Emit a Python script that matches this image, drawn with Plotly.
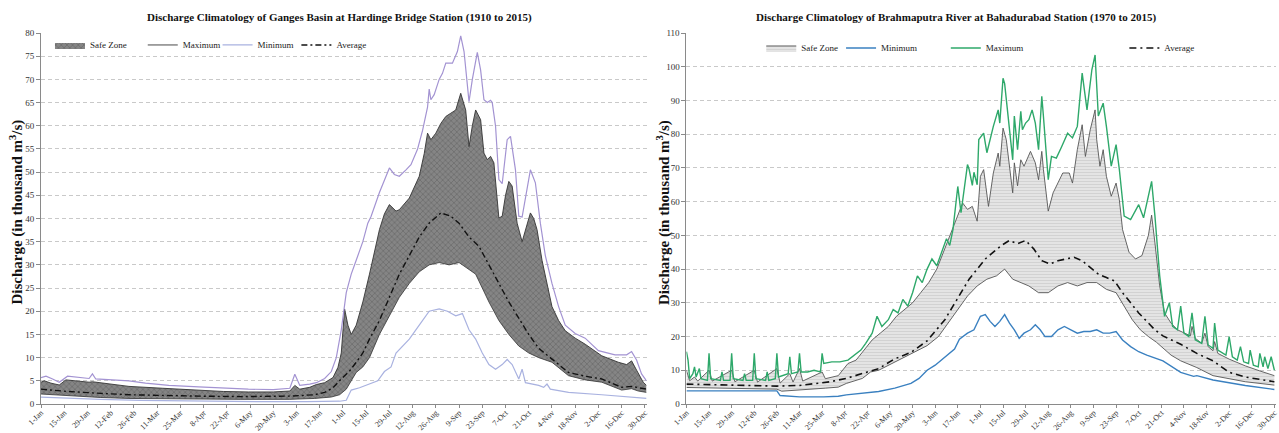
import plotly.graph_objects as go

# ---------------- categories / ticks ----------------
tick_days = [0, 14, 28, 42, 56, 70, 84, 98, 112, 126, 140, 154, 168, 182, 196, 210,
             224, 238, 252, 266, 280, 294, 308, 322, 336, 350, 364]
tick_labels = ["1-Jan", "15-Jan", "29-Jan", "12-Feb", "26-Feb", "11-Mar", "25-Mar", "8-Apr",
               "22-Apr", "6-May", "20-May", "3-Jun", "17-Jun", "1-Jul", "15-Jul", "29-Jul",
               "12-Aug", "26-Aug", "9-Sep", "23-Sep", "7-Oct", "21-Oct", "4-Nov", "18-Nov",
               "2-Dec", "16-Dec", "30-Dec"]

# ---------------- Ganges (left) ----------------
g_env_days = [0, 3, 7, 11, 16, 22, 29, 31, 33, 43, 53, 63, 77, 95, 110, 125, 140, 150, 153, 156,
              162, 166, 171, 175, 178, 181, 184, 187, 190, 194, 197, 199, 204, 210, 213, 216, 220,
              223, 227, 230, 233, 234, 235, 237, 240, 242, 244, 248, 251, 253, 255, 257, 258, 260,
              263, 265, 267, 269, 271, 272, 274, 276, 278, 281, 283, 286, 288, 290, 293, 295, 298,
              301, 304, 308, 312, 316, 322, 328, 336, 346, 353, 356, 359, 362, 365]
g_env = [5.7, 6.0, 5.4, 4.7, 6.0, 5.8, 5.5, 6.5, 5.4, 5.2, 5.0, 4.5, 4.0, 3.7, 3.4, 3.2, 3.1, 3.4,
         6.4, 4.0, 4.3, 4.6, 5.5, 7.0, 10.0, 16.0, 24.0, 28.0, 31.0, 35.0, 39.0, 40.5, 45.6, 50.9,
         49.5, 49.1, 50.5, 51.6, 55.0, 59.0, 64.0, 67.9, 65.6, 66.7, 70.0, 71.3, 73.5, 73.5, 76.0,
         79.4, 76.0, 68.0, 65.2, 70.0, 75.8, 72.0, 65.6, 65.0, 65.5, 65.0, 59.9, 48.4, 47.5, 57.0,
         57.7, 50.5, 40.5, 40.3, 46.0, 50.5, 47.7, 39.0, 32.0, 26.0, 21.0, 17.0, 15.2, 14.2, 11.5,
         10.6, 10.6, 11.3, 9.5, 6.5, 5.0]

g_up_days = [0, 2, 6, 11, 15, 22, 29, 31, 43, 53, 73, 95, 110, 125, 140, 150, 153, 156, 162, 166,
             171, 176, 179, 181, 183, 185, 187, 190, 194, 198, 201, 204, 207, 210, 214, 216, 222,
             228, 231, 233, 235, 238, 241, 244, 247, 250, 253, 256, 258, 260, 262, 265, 267, 269,
             271, 273, 276, 278, 280, 282, 284, 287, 290, 293, 295, 297, 299, 302, 305, 308, 312,
             316, 322, 328, 338, 348, 353, 356, 359, 363, 365]
g_up = [4.7, 5.0, 4.5, 4.1, 5.2, 4.9, 4.7, 4.8, 4.3, 3.8, 3.4, 2.9, 2.7, 2.6, 2.6, 2.8, 4.0, 3.2,
        3.6, 4.2, 4.6, 5.7, 7.9, 11.0, 20.5, 17.0, 15.0, 17.0, 22.0, 28.0, 33.0, 37.6, 41.0, 43.0,
        41.6, 41.9, 44.4, 49.1, 54.0, 58.4, 57.0, 58.4, 60.5, 62.0, 62.7, 63.4, 67.0, 63.4, 55.5,
        60.0, 63.4, 61.3, 54.1, 52.7, 53.4, 52.0, 40.1, 40.5, 45.0, 48.0, 47.0, 39.0, 35.0, 39.0,
        41.2, 40.0, 37.6, 31.0, 26.0, 21.0, 18.0, 15.8, 14.2, 12.9, 10.4, 9.0, 8.5, 9.3, 7.3, 4.7,
        4.0]

g_low_days = [0, 16, 36, 53, 95, 120, 150, 165, 175, 180, 184, 187, 190, 194, 198, 204, 210, 216,
              222, 228, 234, 240, 246, 252, 258, 262, 266, 270, 276, 282, 288, 294, 300, 308, 318,
              328, 338, 350, 356, 360, 365]
g_low = [2.15, 1.8, 1.4, 1.2, 1.0, 1.0, 1.0, 1.2, 1.5, 2.0, 3.2, 5.0, 6.8, 8.0, 10.0, 15.0, 19.0,
         23.0, 26.0, 28.5, 30.0, 30.5, 30.0, 30.5, 29.0, 28.0, 25.0, 22.0, 18.0, 15.0, 12.5, 11.0,
         10.0, 9.0, 6.1, 5.2, 4.7, 3.0, 3.3, 2.8, 2.5]

g_avg_days = [0, 16, 36, 53, 95, 120, 150, 165, 171, 176, 181, 186, 190, 194, 198, 204, 210, 216,
              222, 228, 234, 241, 247, 252, 258, 264, 270, 276, 282, 288, 294, 300, 308, 318, 328,
              338, 350, 356, 365]
g_avg = [3.2, 2.7, 2.3, 2.0, 1.7, 1.6, 1.7, 2.0, 2.5, 3.5, 5.4, 7.1, 9.0, 11.0, 14.0, 18.0, 23.0,
         28.0, 32.0, 36.0, 39.0, 41.2, 40.5, 39.0, 36.0, 34.0, 30.0, 26.0, 22.0, 18.5, 15.0, 12.0,
         9.7, 6.8, 6.0, 5.4, 3.6, 3.8, 3.2]

g_min_days = [0, 20, 36, 60, 95, 130, 160, 180, 184, 187, 192, 196, 203, 207, 211, 214, 218, 222,
              228, 234, 240, 245, 250, 254, 258, 262, 266, 270, 274, 278, 281, 284, 288, 290, 292,
              300, 303, 305, 307, 318, 338, 352, 365]
g_min = [1.5, 1.2, 1.0, 0.8, 0.6, 0.5, 0.5, 0.6, 0.8, 3.0, 3.5, 4.0, 5.0, 7.0, 8.0, 11.0, 12.5,
         14.0, 17.0, 20.0, 20.5, 20.0, 19.0, 19.5, 16.0, 14.0, 11.0, 8.5, 7.5, 8.5, 9.6, 8.5, 5.4,
         7.5, 4.6, 4.0, 3.6, 4.3, 3.2, 2.5, 2.0, 1.6, 1.2]

# ---------------- Brahmaputra (right) ----------------
b_max_days = [0, 1, 2, 4, 5, 6, 8, 9, 13, 14, 15, 21, 22, 23, 27, 28, 29, 35, 36, 37, 41, 42, 43,
              49, 50, 51, 55, 56, 57, 60, 63, 64, 65, 69, 70, 71, 75, 79, 83, 84, 85, 90, 95, 100,
              104, 108, 111, 115, 118, 121, 125, 128, 131, 134, 137, 140, 143, 146, 149, 152, 155,
              158, 161, 163, 165, 168, 170, 174, 175, 177, 178, 180, 181, 184, 186, 190, 193, 194,
              196, 197, 200, 202, 203, 205, 207, 208, 210, 212, 214, 216, 218, 220, 221, 224, 226,
              229, 232, 236, 239, 242, 245, 248, 251, 253, 255, 258, 260, 263, 266, 268, 271, 275,
              280, 283, 288, 290, 293, 296, 299, 301, 304, 306, 308, 311, 313, 315, 319, 321, 323,
              326, 327, 329, 334, 336, 338, 341, 343, 345, 348, 349, 351, 354, 355, 357, 358, 360,
              362, 364]
b_max = [15.5, 13, 7.5, 9, 11, 8, 10.5, 7.5, 7, 15, 7.5, 7, 9.5, 7, 7, 15, 7.5, 7, 9, 7, 7, 15,
         7.5, 7, 9.5, 7, 7.5, 15, 8, 8.5, 9, 14, 9, 9.5, 15, 9.5, 9.5, 10, 9.5, 15, 12, 12.5, 12.5,
         13, 14.5, 16, 18, 21, 26, 23, 25, 28, 27, 31, 29, 33, 38, 36, 40, 43, 41, 45, 49, 47, 51.7,
         64.5, 56.7, 71, 69.6, 64.8, 68.7, 65, 78.4, 80.3, 74.5, 82.3, 87.2, 83.3, 96.6, 95, 81.3,
         72.4, 85.4, 75.4, 86.8, 81.3, 83.3, 84.3, 87.2, 83.3, 75.4, 91.2, 85.4, 66.5, 73.4, 72.9,
         76, 80.3, 78.9, 82.3, 98.1, 87.2, 99.1, 103.5, 85.4, 89.2, 82.3, 70.5, 76.9, 69.6, 55.7,
         54.7, 59.1, 55.2, 66.0, 56.0, 38, 26, 30, 23, 22, 29, 21, 20, 27, 19, 18, 26, 17.5, 16.5,
         24, 16, 14.5, 20, 14, 13, 17, 12.5, 12, 16, 11.5, 11, 15, 11, 14, 10.5, 14, 10]

b_up_days = [0, 2, 5, 7, 14, 16, 28, 30, 42, 44, 56, 58, 64, 66, 70, 72, 84, 86, 94, 100, 105,
             110, 115, 120, 125, 130, 135, 140, 145, 150, 155, 160, 163, 167, 171, 174, 177, 180,
             182, 184, 187, 190, 193, 194, 196, 198, 200, 202, 203, 205, 207, 209, 213, 216, 218,
             220, 221, 224, 227, 233, 237, 239, 242, 245, 247, 250, 253, 254, 256, 258, 260, 263,
             266, 268, 270, 274, 278, 282, 286, 288, 290, 293, 296, 300, 304, 308, 312, 313, 315,
             319, 321, 323, 326, 327, 329, 336, 346, 355, 364]
b_up = [10, 6.9, 8, 6.8, 10, 6.8, 10, 6.6, 10, 6.5, 10.5, 6.2, 9, 6.5, 10.5, 6.8, 9.5, 7.5, 8.4,
        12, 13, 16, 19, 21, 23, 26, 28, 30, 33, 36, 40, 46, 50, 54.7, 59.6, 57.7, 58.6, 54.2, 67.5,
        69.5, 58.6, 68.5, 74.4, 70.5, 81.8, 78.4, 69.6, 62.6, 71.5, 64.7, 72.4, 70.5, 74.9, 71.5,
        66.5, 74.9, 69.6, 57.2, 62.6, 68.5, 68.5, 65.5, 75.4, 82.8, 73.4, 81.3, 87.2, 78.4, 70.5,
        75.4, 67.5, 61.6, 65.5, 60.6, 51.7, 45, 43, 44, 50, 56, 48, 35, 27, 24, 22, 21, 20.2, 23,
        19.5, 18, 21, 17, 15.8, 18.5, 15, 13.3, 11.3, 9.8, 8.4]

b_low_days = [0, 20, 40, 56, 59, 70, 86, 94, 99, 109, 114, 119, 129, 139, 149, 156, 162, 168, 174,
              180, 186, 192, 197, 202, 207, 212, 218, 224, 230, 236, 242, 248, 254, 260, 266, 271,
              276, 281, 286, 291, 300, 306, 316, 326, 336, 346, 364]
b_low = [4.9, 4.7, 4.6, 4.4, 3.8, 4.1, 4.7, 5.0, 6.1, 7.6, 9.5, 10, 12.4, 14.9, 17.3, 20, 24, 28,
         32, 35, 37, 38, 40, 37, 36, 35, 33, 33, 35, 36, 35, 36, 36, 34, 33, 29, 25, 22, 20, 18.3,
         14.5, 12.8, 10.8, 8.4, 7.4, 6.6, 5.6]

b_avg_days = [0, 20, 40, 56, 70, 85, 89, 99, 109, 119, 129, 139, 149, 155, 160, 165, 170, 175,
              180, 185, 190, 195, 200, 205, 210, 215, 220, 225, 230, 235, 240, 245, 250, 255, 260,
              265, 270, 275, 280, 285, 290, 295, 306, 316, 326, 336, 346, 364]
b_avg = [5.9, 5.7, 5.5, 5.3, 5.5, 6.2, 6.6, 7.6, 9.0, 10.5, 13.4, 15.3, 18.7, 22, 25, 29, 33, 37,
         40, 43, 45, 47, 48.5, 47.5, 48.5, 46, 42.5, 41.5, 42.5, 43, 43.5, 42.5, 40.5, 38.5, 37.5,
         36.5, 33, 30, 27, 24.5, 22, 20.2, 17.7, 15, 12.8, 9.4, 8, 6.6]

b_min_days = [0, 56, 58, 70, 85, 94, 99, 109, 119, 129, 139, 144, 149, 154, 159, 166, 169, 174,
              178, 182, 185, 188, 191, 194, 197, 200, 203, 206, 209, 213, 216, 219, 222, 226, 230,
              234, 238, 242, 246, 250, 254, 258, 262, 266, 270, 275, 280, 285, 295, 306, 314, 316,
              326, 336, 346, 364]
b_min = [3.9, 3.9, 2.5, 2.1, 2.1, 2.3, 2.7, 3.2, 3.7, 4.7, 6.1, 7.6, 10, 11.5, 13.4, 16.3, 19.2,
         21, 22, 26, 26.5, 24.5, 23, 24.5, 26.5, 24, 22, 19.5, 21, 22, 23.5, 22, 20, 20, 22, 23, 22,
         21, 21.5, 21.5, 22, 21, 21, 21.5, 19, 17, 15.5, 14.5, 12.8, 9.4, 8.2, 8.4, 7.1, 6.2, 5.5,
         4.3]

# ---------------- layout geometry ----------------
W, H = 1279, 433
ML, MR, MT, MB = 41, 0, 33, 28
PW, PH = W - ML - MR, H - MT - MB


def px(x):
    return (x - ML) / PW


def py(y):
    return (H - MB - y) / PH


SERIF = "Liberation Serif"
fig = go.Figure()

# ---- left traces ----
fig.add_trace(go.Scatter(x=g_low_days, y=g_low, mode="lines", line=dict(color="#333333", width=0.8),
                         showlegend=False, xaxis="x", yaxis="y", hoverinfo="skip"))
fig.add_trace(go.Scatter(x=g_up_days, y=g_up, mode="lines", fill="tonexty", name="Safe Zone",
                         line=dict(color="rgba(0,0,0,0)", width=0), fillcolor="#858585",
                         fillpattern=dict(shape="x", bgcolor="#858585", fgcolor="#555555", size=4,
                                          solidity=0.35),
                         legend="legend", xaxis="x", yaxis="y"))
fig.add_trace(go.Scatter(x=g_up_days, y=g_up, mode="lines", name="Maximum",
                         line=dict(color="#333333", width=0.9), legend="legend2",
                         xaxis="x", yaxis="y"))
fig.add_trace(go.Scatter(x=g_min_days, y=g_min, mode="lines", name="Minimum",
                         line=dict(color="#a9b2e0", width=1.2), legend="legend3",
                         xaxis="x", yaxis="y"))
fig.add_trace(go.Scatter(x=g_env_days, y=g_env, mode="lines", name="Maximum envelope",
                         line=dict(color="#a393d2", width=1.2), showlegend=False,
                         xaxis="x", yaxis="y"))
fig.add_trace(go.Scatter(x=g_avg_days, y=g_avg, mode="lines", name="Average",
                         line=dict(color="#111111", width=1.4, dash="6px,3px,2px,3px"),
                         legend="legend4", xaxis="x", yaxis="y"))

# ---- right traces ----
fig.add_trace(go.Scatter(x=b_low_days, y=b_low, mode="lines", line=dict(color="#555555", width=0.9),
                         showlegend=False, xaxis="x2", yaxis="y2", hoverinfo="skip"))
fig.add_trace(go.Scatter(x=b_up_days, y=b_up, mode="lines", fill="tonexty", name="Safe Zone",
                         line=dict(color="#555555", width=0.9), fillcolor="#e4e4e4",
                         fillpattern=dict(shape="-", bgcolor="#e4e4e4", fgcolor="#bdbdbd", size=3,
                                          solidity=0.3),
                         legend="legend5", xaxis="x2", yaxis="y2"))
fig.add_trace(go.Scatter(x=b_min_days, y=b_min, mode="lines", name="Minimum",
                         line=dict(color="#3a80c0", width=1.4), legend="legend6",
                         xaxis="x2", yaxis="y2"))
fig.add_trace(go.Scatter(x=b_max_days, y=b_max, mode="lines", name="Maximum",
                         line=dict(color="#2ea86a", width=1.4), legend="legend7",
                         xaxis="x2", yaxis="y2"))
fig.add_trace(go.Scatter(x=b_avg_days, y=b_avg, mode="lines", name="Average",
                         line=dict(color="#111111", width=1.6, dash="7px,4px,2px,4px"),
                         legend="legend8", xaxis="x2", yaxis="y2"))

tickfont = dict(family=SERIF, size=9, color="#333333")
xtickfont = dict(family=SERIF, size=8, color="#333333")
xcommon = dict(range=[0, 365], tickmode="array", tickvals=tick_days, ticktext=tick_labels,
               tickangle=-45, tickfont=xtickfont, showline=True, linecolor="#8a8a8a",
               ticks="outside", ticklen=3, tickcolor="#8a8a8a", showgrid=False, zeroline=False,
               ticklabelstandoff=-3)
ycommon = dict(showline=True, linecolor="#8a8a8a", ticks="outside", ticklen=4, tickcolor="#8a8a8a",
               tickfont=tickfont, showgrid=True, gridcolor="#c9c9c9", griddash="4px,3px",
               gridwidth=1, zeroline=False)

legfont = dict(family=SERIF, size=9, color="#222222")


def leg(x, y):
    return dict(x=px(x), y=py(y), xanchor="left", yanchor="middle", orientation="h",
                font=legfont, bgcolor="rgba(0,0,0,0)", itemwidth=30, tracegroupgap=0)


fig.update_layout(
    width=W, height=H, margin=dict(l=ML, r=MR, t=MT, b=MB),
    paper_bgcolor="white", plot_bgcolor="white",
    xaxis=dict(domain=[0, px(648)], anchor="y", **xcommon),
    yaxis=dict(domain=[0, 1], anchor="x", range=[0, 80], dtick=5, **ycommon),
    xaxis2=dict(domain=[px(688), 1], anchor="y2", **xcommon),
    yaxis2=dict(domain=[0, 1], anchor="x2", range=[0, 110], dtick=10, **ycommon),
    legend=leg(50, 45), legend2=leg(143, 45), legend3=leg(218, 45), legend4=leg(297, 45),
    legend5=leg(763, 48), legend6=leg(843, 48), legend7=leg(948, 48), legend8=leg(1127, 48),
    showlegend=True,
    annotations=[
        dict(text="<b>Discharge Climatology of Ganges Basin at Hardinge Bridge Station (1910 to 2015)</b>",
             x=px(340), y=py(17), xref="paper", yref="paper", showarrow=False,
             xanchor="center", yanchor="middle",
             font=dict(family=SERIF, size=11, color="#111111")),
        dict(text="<b>Discharge Climatology of Brahmaputra River at Bahadurabad Station (1970 to 2015)</b>",
             x=px(958), y=py(17), xref="paper", yref="paper", showarrow=False,
             xanchor="center", yanchor="middle",
             font=dict(family=SERIF, size=11, color="#111111")),
        dict(text="<b>Discharge (in thousand m<sup>3</sup>/s)</b>", textangle=-90,
             x=px(16), y=py(213), xref="paper", yref="paper", showarrow=False,
             xanchor="center", yanchor="middle",
             font=dict(family=SERIF, size=15, color="#111111")),
        dict(text="<b>Discharge (in thousand m<sup>3</sup>/s)</b>", textangle=-90,
             x=px(665), y=py(213), xref="paper", yref="paper", showarrow=False,
             xanchor="center", yanchor="middle",
             font=dict(family=SERIF, size=15, color="#111111")),
    ],
)

fig.write_html("out.html", config={"displayModeBar": False},
               post_script="document.body.style.margin='0';document.body.style.overflow='hidden';")
